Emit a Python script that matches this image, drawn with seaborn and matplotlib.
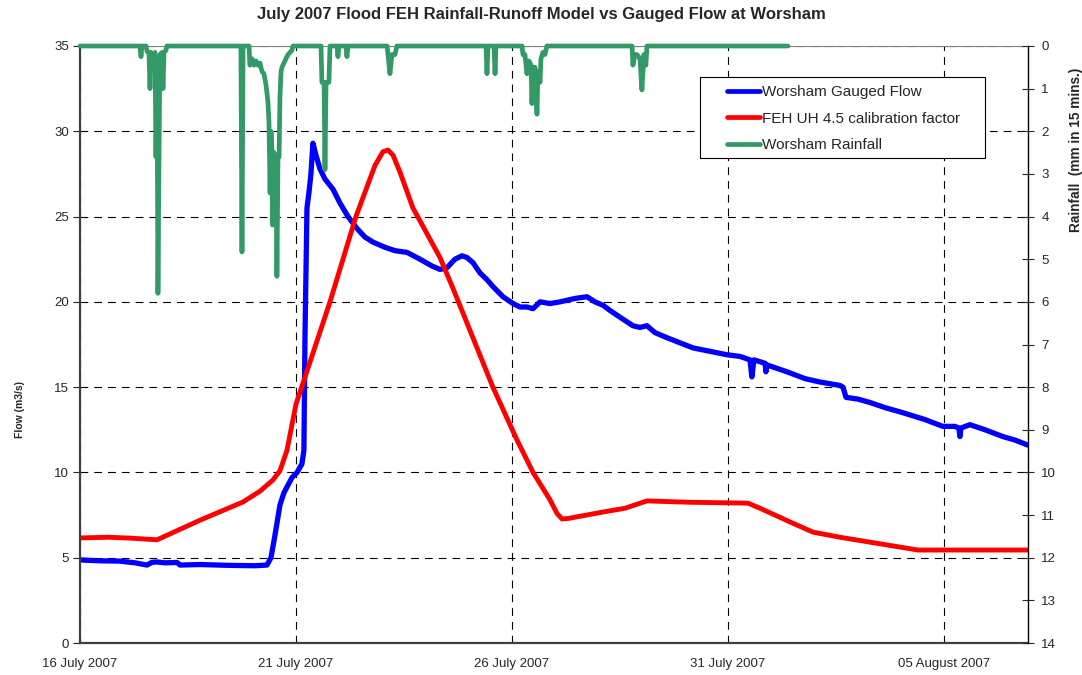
import pandas as pd
import matplotlib
matplotlib.use('Agg')
import matplotlib.pyplot as plt
import matplotlib.dates as mdates
from matplotlib.lines import Line2D
from matplotlib.patches import Rectangle
import seaborn as sns

sns.set_style('white')
plt.rcParams['font.family'] = ['Liberation Sans', 'DejaVu Sans']

start = pd.Timestamp('2007-07-16 00:00')

# gauged flow at Worsham (hours from 16 July 00:00, m3/s)
flow_hours = [0, 11.1, 22.2, 30.6, 37.2, 40, 42.8, 47.2, 53.9, 55.6, 66.7, 83.3, 97.2, 103.9,
              106.1, 107.8, 109.4, 111.1, 113.3, 115, 117.8, 120.6, 123.3, 124.4, 125.0, 126.1,
              127.2, 128.3, 129.4, 131.1, 133.3, 136.1, 140.6, 144.4, 148.9, 153.9, 158.3, 162.8,
              169.4, 175, 181.7, 188.9, 195.6, 200, 203.9, 208.3, 212.2, 215, 218.3, 222.2, 226.1,
              229.4, 235, 240.6, 244.4, 248.3, 251.7, 255.6, 261.1, 266.7, 275, 281.7, 286.1,
              290.6, 294.4, 300, 307.2, 311.1, 315, 319.4, 326.1, 333.3, 340.6, 350, 359.4, 366.7,
              372.2, 373.3, 374.4, 380.6, 381.1, 381.7, 392.8, 402.8, 411.1, 422.2, 423.9, 425.6,
              432.2, 438.9, 447.2, 457.2, 469.4, 479.4, 486.1, 488.3, 488.9, 489.4, 494.4, 502.8,
              512.8, 519.4, 526.7]
flow_vals = [4.87, 4.82, 4.8, 4.7, 4.57, 4.73, 4.75, 4.7, 4.72, 4.57, 4.6, 4.55, 4.53, 4.57,
             5.0, 6.0, 7.0, 8.1, 8.8, 9.15, 9.7, 10.0, 10.5, 11.3, 18.0, 25.5,
             26.4, 27.5, 29.3, 28.6, 27.8, 27.2, 26.6, 25.8, 25.0, 24.3, 23.8, 23.5,
             23.2, 23.0, 22.9, 22.5, 22.1, 21.9, 22.0, 22.5, 22.7, 22.6, 22.3, 21.7, 21.3,
             20.9, 20.3, 19.9, 19.7, 19.7, 19.6, 20.0, 19.9, 20.0, 20.2, 20.3, 20.0,
             19.8, 19.5, 19.1, 18.6, 18.5, 18.6, 18.2, 17.9, 17.6, 17.3, 17.1, 16.9, 16.8,
             16.6, 15.6, 16.6, 16.4, 15.9, 16.3, 15.9, 15.5, 15.3, 15.1, 15.0, 14.4,
             14.3, 14.1, 13.8, 13.5, 13.1, 12.7, 12.7, 12.6, 12.1, 12.6, 12.8, 12.5,
             12.1, 11.9, 11.6]

# FEH rainfall-runoff model (hours, m3/s)
feh_hours = [0, 15.6, 27.8, 42.8, 66.7, 90.6, 100, 107.2, 111.1, 115, 120, 138.9, 153.3, 163.9,
             168.3, 171.1, 173.9, 177.8, 185, 200, 207.2, 229.4, 242.8, 251.7, 261.1, 265, 267.8,
             271.1, 290.6, 302.8, 315, 338.9, 371.1, 377.8, 394.4, 407.2, 422.2, 465.6, 526.7]
feh_vals = [6.16, 6.2, 6.15, 6.05, 7.2, 8.27, 8.9, 9.56, 10.1, 11.3, 14.0, 20.0, 25.0, 28.0,
            28.8, 28.9, 28.6, 27.6, 25.5, 22.6, 20.8, 15.0, 11.9, 10.0, 8.4, 7.6, 7.27,
            7.3, 7.68, 7.9, 8.33, 8.25, 8.2, 7.9, 7.1, 6.5, 6.2, 5.45, 5.45]

# rainfall at Worsham (hours, mm in 15 mins)
rain_hours = [0, 33.3, 33.9, 34.4, 36.7, 37.2, 38.3, 38.9, 39.4, 40.6, 41.7, 42.2, 42.8, 43.3,
              43.9, 44.4, 45.6, 46.1, 46.7, 47.8, 48.3,
              89.4, 90.0, 90.6,
              93.9, 94.4, 95.6, 96.7, 97.8, 98.9, 100, 101.1, 102.2, 103.3, 104.4, 105.0, 105.6,
              106.1, 106.7, 107.0, 107.8, 108.3, 108.9, 109.4, 110.0, 110.6, 111.1, 111.7,
              112.2, 113.3, 114.4, 115.6, 116.7, 117.8, 118.3,
              133.9, 134.4, 135.6, 136.1, 136.7, 138.3, 138.9,
              142.8, 143.3, 143.9, 147.8, 148.3, 148.9,
              170.6, 171.1, 172.2, 173.3, 175, 176.1,
              225.6, 226.1, 226.7, 230.0, 230.6, 231.1,
              245.6, 246.1, 247.2, 248.3, 249.4, 250.6, 251.1, 251.7, 252.8, 253.9, 254.4, 255.6,
              256.1, 257.2, 258.3, 259.4,
              306.7, 307.2, 308.3, 309.4, 311.1, 312.2, 313.3, 314.4, 315.0,
              393.3]
rain_vals = [0, 0, 0.25, 0, 0, 0.12, 0.15, 1.0, 0.15, 0.2, 0.15, 2.6, 0.6, 5.8,
             2.6, 0.2, 0.15, 1.0, 0.15, 0.1, 0,
             0, 4.83, 0,
             0, 0.45, 0.3, 0.45, 0.35, 0.45, 0.4, 0.6, 0.65, 0.9, 1.3, 1.8, 3.45,
             2.0, 2.5, 4.2, 2.5, 2.6, 2.6, 5.4, 2.6, 2.6, 1.2, 0.6,
             0.5, 0.4, 0.3, 0.2, 0.15, 0.1, 0,
             0, 0.85, 0.85, 2.9, 0.85, 0.85, 0,
             0, 0.25, 0, 0, 0.25, 0,
             0, 0.2, 0.65, 0.2, 0.2, 0,
             0, 0.65, 0, 0, 0.65, 0,
             0, 0.2, 0.2, 0.65, 0.35, 0.45, 1.35, 0.5, 0.5, 1.6, 0.6, 0.85,
             0.3, 0.15, 0.2, 0,
             0, 0.45, 0.2, 0.2, 0.3, 1.03, 0.2, 0.45, 0,
             0]

flow_df = pd.DataFrame({'time': start + pd.to_timedelta(flow_hours, unit='h'), 'flow': flow_vals})
feh_df = pd.DataFrame({'time': start + pd.to_timedelta(feh_hours, unit='h'), 'flow': feh_vals})
rain_df = pd.DataFrame({'time': start + pd.to_timedelta(rain_hours, unit='h'), 'rain': rain_vals})

tick_dates = pd.to_datetime(['2007-07-16', '2007-07-21', '2007-07-26', '2007-07-31', '2007-08-05'])

fig = plt.figure(figsize=(10.82, 6.75), dpi=100)
ax = fig.add_axes([80 / 1082, 1 - 643 / 675, 948 / 1082, 597 / 675])
ax2 = ax.twinx()

sns.lineplot(data=flow_df, x='time', y='flow', ax=ax, color='#0000FF', lw=3.8,
             estimator=None, sort=False, legend=False)
sns.lineplot(data=feh_df, x='time', y='flow', ax=ax, color='#FF0000', lw=3.5,
             estimator=None, sort=False, legend=False)
sns.lineplot(data=rain_df, x='time', y='rain', ax=ax2, color='#339966', lw=3.4,
             estimator=None, sort=False, legend=False)
for ln in ax2.lines:
    ln.set_clip_on(False)
    ln.set_solid_joinstyle('round')
    ln.set_solid_capstyle('round')

ax.set_xlim(start, start + pd.Timedelta(hours=526.7))
ax.set_ylim(0, 35)
ax.set_yticks(range(0, 36, 5))
ax2.set_ylim(14, 0)
ax2.set_yticks(range(0, 15))
ax.set_xticks(tick_dates)
ax.xaxis.set_major_formatter(mdates.DateFormatter('%d %B %Y'))

ax.grid(True, color='black', lw=0.8, ls=(0, (7, 5.4)))
ax.set_axisbelow(True)

ax.tick_params(axis='x', direction='out', length=5, labelsize=9.5, pad=6)
ax.tick_params(axis='y', direction='out', length=5, labelsize=9.5, pad=3)
ax2.tick_params(axis='y', direction='inout', length=9, labelsize=9.5, pad=5)

for s in ['left', 'bottom']:
    ax.spines[s].set_color('#404040')
    ax.spines[s].set_linewidth(1.6)
ax.spines['top'].set_color('#808080')
ax.spines['top'].set_linewidth(0.8)
ax.spines['right'].set_visible(False)
for s in ['left', 'bottom', 'top']:
    ax2.spines[s].set_visible(False)
ax2.spines['right'].set_color('black')
ax2.spines['right'].set_linewidth(1.0)

ax.set_xlabel('')
ax.set_ylabel('Flow (m3/s)', fontsize=7.5, fontweight='bold')
ax.yaxis.set_label_coords((25 - 80) / 948, (643 - 410) / 597)
ax2.set_ylabel('Rainfall  (mm in 15 mins.)', fontsize=9.8, fontweight='bold')
ax2.yaxis.set_label_coords((1069 - 80) / 948, (643 - 150) / 597)
fig.suptitle('July 2007 Flood FEH Rainfall-Runoff Model vs Gauged Flow at Worsham',
             fontsize=12, fontweight='bold', y=1 - 15 / 675, va='center')

# legend frame drawn as a box, entries placed inside
box = Rectangle(((700 - 80) / 948, (643 - 158) / 597), 285 / 948, 81 / 597,
                transform=ax2.transAxes, facecolor='white', edgecolor='black',
                lw=0.8, zorder=5)
ax2.add_patch(box)
handles = [Line2D([], [], color='#0000FF', lw=3.4),
           Line2D([], [], color='#FF0000', lw=3.4),
           Line2D([], [], color='#339966', lw=3.4)]
labels = ['Worsham Gauged Flow', 'FEH UH 4.5 calibration factor', 'Worsham Rainfall']
leg = ax2.legend(handles, labels, loc='upper left',
                 bbox_to_anchor=((727 - 80) / 948, (643 - 85) / 597),
                 fontsize=11, frameon=False, handlelength=2.16, handletextpad=0.13,
                 borderpad=0, labelspacing=0.83, borderaxespad=0)
leg.set_zorder(6)

fig.savefig('out.png', dpi=100)
